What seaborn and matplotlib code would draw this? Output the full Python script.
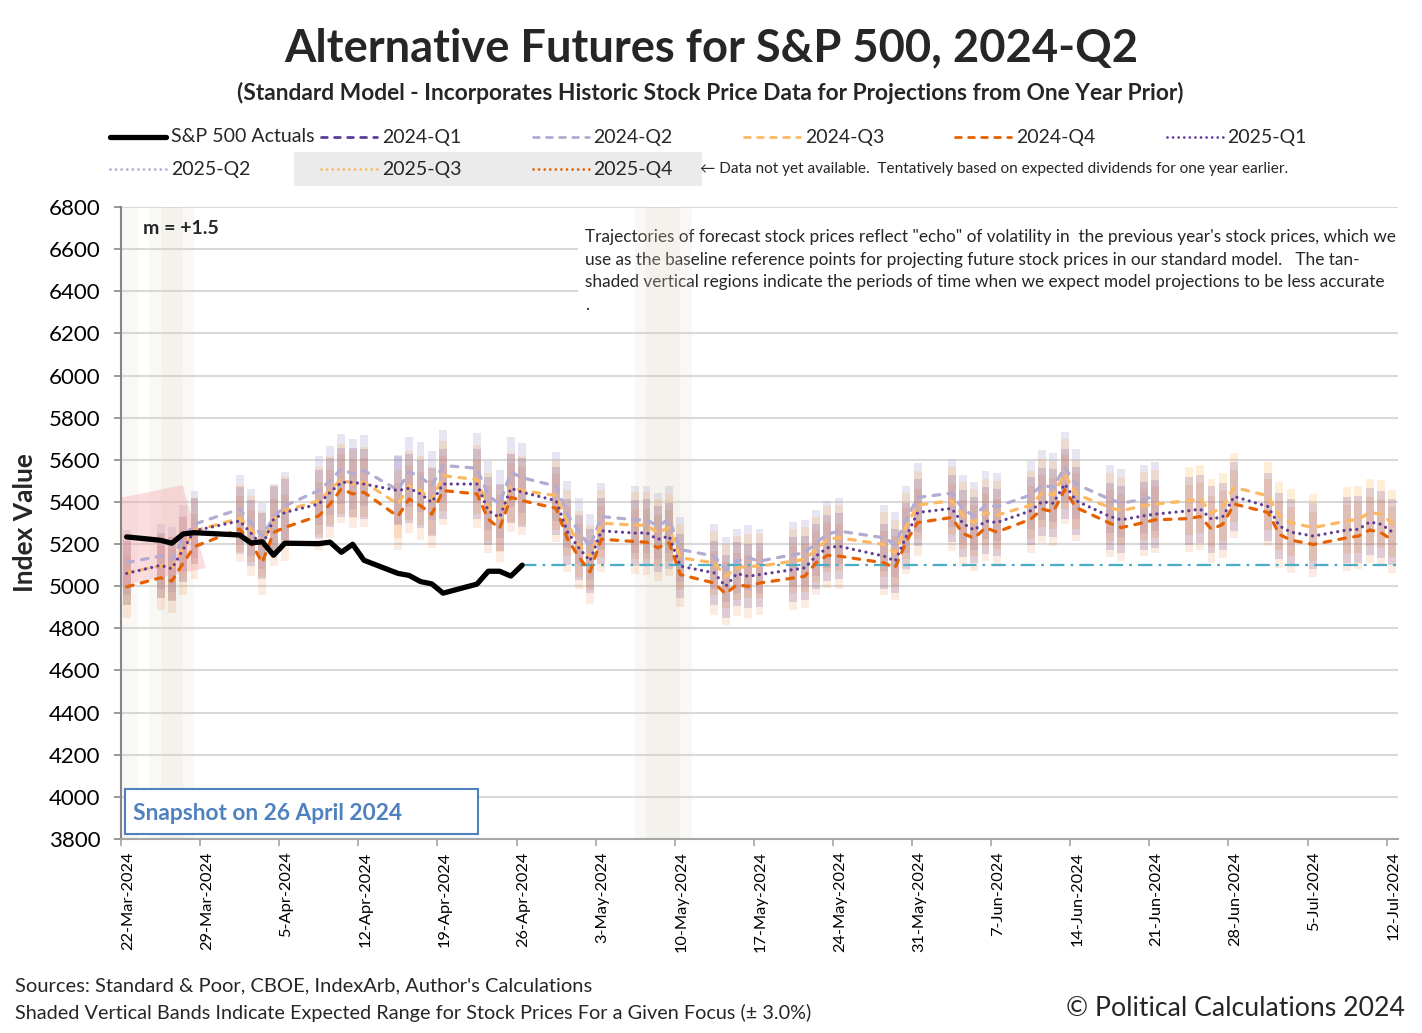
import numpy as np
import pandas as pd
import matplotlib
matplotlib.use("Agg")
import matplotlib.pyplot as plt
from matplotlib.lines import Line2D
from matplotlib.patches import Rectangle
import seaborn as sns

# --- data -------------------------------------------------------------
holidays = ["2024-03-29", "2024-05-27", "2024-06-19", "2024-07-04"]
trade_days = pd.bdate_range("2024-03-22", "2024-07-12", freq="C", holidays=holidays)

# S&P 500 daily closes, 22-Mar-2024 .. 26-Apr-2024
actual_close = [5234, 5218, 5204, 5248, 5254, 5243, 5205, 5211, 5147, 5204,
                5202, 5209, 5161, 5199, 5123, 5061, 5051, 5022, 5011, 4967,
                5010, 5071, 5071, 5048, 5100]

# projected trajectories, one value per trading day
q2_2024 = [5112, 5143, 5127, 5230, 5295, 5366, 5302, 5239, 5326, 5382,
           5454, 5501, 5557, 5533, 5549, 5457, 5544, 5517, 5477, 5573,
           5560, 5430, 5390, 5541, 5515, 5475, 5340, 5262, 5186, 5331,
           5315, 5315, 5286, 5318, 5174, 5143, 5079, 5119, 5135, 5119,
           5150, 5158, 5206, 5246, 5262, 5230, 5198, 5318, 5421, 5442,
           5365, 5334, 5385, 5378, 5433, 5480, 5469, 5565, 5485, 5413,
           5394, 5413, 5426]
q3_2024 = [5064, 5096, 5088, 5180, 5263, 5322, 5271, 5199, 5318, 5358,
           5406, 5454, 5509, 5486, 5494, 5390, 5477, 5454, 5406, 5525,
           5506, 5374, 5322, 5470, 5454, 5430, 5300, 5199, 5135, 5299,
           5290, 5289, 5254, 5278, 5135, 5111, 5047, 5087, 5095, 5095,
           5119, 5127, 5174, 5222, 5230, 5198, 5158, 5286, 5385, 5406,
           5336, 5302, 5350, 5337, 5385, 5442, 5433, 5533, 5437, 5374,
           5358, 5382, 5390, 5406, 5413, 5347, 5378, 5469, 5429, 5334,
           5302, 5278, 5310, 5318, 5350, 5342, 5299]
q4_2024 = [4997, 5040, 5024, 5110, 5188, 5271, 5207, 5112, 5255, 5279,
           5334, 5390, 5462, 5438, 5446, 5331, 5414, 5382, 5342, 5454,
           5438, 5318, 5274, 5422, 5406, 5370, 5225, 5140, 5068, 5223,
           5212, 5209, 5182, 5206, 5055, 5015, 4964, 5007, 4999, 5015,
           5039, 5047, 5111, 5146, 5143, 5111, 5087, 5214, 5302, 5326,
           5250, 5228, 5278, 5257, 5318, 5366, 5353, 5458, 5374, 5299,
           5278, 5302, 5315, 5321, 5331, 5270, 5294, 5390, 5350, 5246,
           5219, 5198, 5230, 5238, 5267, 5254, 5219]
q1_2025 = [5061, 5099, 5083, 5175, 5263, 5310, 5252, 5191, 5318, 5350,
           5390, 5446, 5493, 5493, 5485, 5454, 5465, 5438, 5398, 5485,
           5485, 5358, 5326, 5465, 5446, 5406, 5258, 5183, 5120, 5263,
           5252, 5254, 5222, 5238, 5095, 5063, 4999, 5060, 5047, 5055,
           5079, 5087, 5143, 5182, 5190, 5143, 5119, 5238, 5350, 5369,
           5298, 5266, 5310, 5302, 5358, 5401, 5394, 5485, 5406, 5331,
           5315, 5334, 5342, 5358, 5366, 5318, 5331, 5426, 5378, 5286,
           5257, 5238, 5267, 5270, 5305, 5294, 5257]

projections = {"2024-Q2": q2_2024, "2024-Q3": q3_2024,
               "2024-Q4": q4_2024, "2025-Q1": q1_2025}

band_pct = 0.03  # +/- 3.0% expected range

# tan "less accurate" periods
tan_starts = pd.to_datetime(["2024-03-20 12:00", "2024-03-24 12:00", "2024-03-25 12:00",
                             "2024-05-06 12:00", "2024-05-07 12:00"])
tan_ends = pd.to_datetime(["2024-03-23 12:00", "2024-03-27 12:00", "2024-03-28 12:00",
                           "2024-05-10 12:00", "2024-05-11 12:00"])

# pink shaded region near the start
pink_dates = pd.to_datetime(["2024-03-22 00:00", "2024-03-27 11:00",
                             "2024-03-29 12:00", "2024-03-22 00:00"])
pink_vals = [5420, 5480, 5086, 5003]

tick_dates = pd.date_range("2024-03-22", "2024-07-12", freq="7D")
y_ticks = list(range(3800, 6801, 200))

legend_names = ["S&P 500 Actuals", "2024-Q1", "2024-Q2", "2024-Q3", "2024-Q4",
                "2025-Q1", "2025-Q2", "2025-Q3", "2025-Q4"]

# --- styles -----------------------------------------------------------
LAV, LORG, DORG, DPUR = "#b2abd2", "#fdb863", "#e66101", "#5e3c99"
DASH = (2.1, 2.6)
DOT = (0.01, 2.0)
colors = {"S&P 500 Actuals": "black",
          "2024-Q1": DPUR, "2024-Q2": LAV, "2024-Q3": LORG, "2024-Q4": DORG,
          "2025-Q1": DPUR, "2025-Q2": LAV, "2025-Q3": LORG, "2025-Q4": DORG}
dashes = {"S&P 500 Actuals": None,
          "2024-Q1": DASH, "2024-Q2": DASH, "2024-Q3": DASH, "2024-Q4": DASH,
          "2025-Q1": DOT, "2025-Q2": DOT, "2025-Q3": DOT, "2025-Q4": DOT}
bar_alpha = {"2024-Q2": 0.30, "2024-Q3": 0.25, "2024-Q4": 0.12, "2025-Q1": 0.18}

sns.set_theme(style="white")
plt.rcParams["font.family"] = ["Lato", "DejaVu Sans"]

W, H = 1422, 1033


def fx(px):
    return px / W


def fy(py):
    return 1 - py / H


fig = plt.figure(figsize=(W / 100, H / 100), dpi=100)
ax = fig.add_axes([fx(121), fy(839), fx(1398) - fx(121), fy(207) - fy(839)])

half_day = pd.Timedelta(hours=12)
mid = trade_days + half_day

# tan periods
for t0, t1 in zip(tan_starts, tan_ends):
    ax.axvspan(t0, t1, color="#ddd5bf", alpha=0.15, lw=0, zorder=1)

# expected-range bars
for name, vals in projections.items():
    v = np.array(vals, dtype=float)
    ax.bar(mid[:len(v)], v * 2 * band_pct, bottom=v * (1 - band_pct), width=0.7,
           color=colors[name], alpha=bar_alpha[name], linewidth=0, zorder=2)

ax.fill(pink_dates, pink_vals, color="#f4a0a8", alpha=0.35, lw=0, zorder=2.5)

# projection lines
frames = []
for name, vals in projections.items():
    frames.append(pd.DataFrame({"date": mid[:len(vals)], "value": vals, "series": name}))
long_df = pd.concat(frames, ignore_index=True)
sns.lineplot(data=long_df, x="date", y="value", hue="series", style="series",
             palette={k: colors[k] for k in projections},
             dashes={k: dashes[k] for k in projections},
             linewidth=2.3, dash_capstyle="round", legend=False,
             errorbar=None, ax=ax, zorder=4)

# reference level of last close
ref_dates = [mid[len(actual_close) - 1], pd.Timestamp("2024-07-13")]
ax.plot(ref_dates, [actual_close[-1]] * 2, color="#4bacc6", lw=1.6,
        dashes=(6.5, 2.7, 1.3, 2.7), zorder=3)

# actuals
sns.lineplot(x=mid[:len(actual_close)], y=actual_close, color="black",
             linewidth=3.8, ax=ax, zorder=6, solid_joinstyle="round")

# axes formatting
ax.set_xlim(pd.Timestamp("2024-03-22"), pd.Timestamp("2024-07-13"))
ax.set_ylim(3800, 6800)
ax.set_yticks(y_ticks)
ax.set_yticklabels([str(t) for t in y_ticks], fontsize=16)
ax.set_xticks(tick_dates)
ax.set_xticklabels([f"{d.day}-{d:%b-%Y}" for d in tick_dates], rotation=90,
                   ha="left", fontsize=11.8)
ax.set_xlabel("")
ax.set_ylabel("Index Value", fontsize=19, fontweight="bold")
ax.yaxis.set_label_coords(-0.066, 0.5)
ax.set_axisbelow(True)
ax.yaxis.grid(True, color="#d9d9d9", linewidth=1.5)
ax.xaxis.grid(False)
for s in ["top", "right"]:
    ax.spines[s].set_visible(False)
ax.spines["left"].set_color("#868686")
ax.spines["left"].set_linewidth(1.5)
ax.spines["bottom"].set_color("#a6a6a6")
ax.spines["bottom"].set_linewidth(1.5)
ax.tick_params(axis="y", which="major", direction="out", length=5, width=1.2,
               color="#868686", left=True, pad=10, labelcolor="black")
ax.tick_params(axis="x", which="major", direction="out", length=5, width=1.2,
               color="#a6a6a6", bottom=True, pad=4, labelcolor="black")

note = ax.text(fx(585 - 121) / (fx(1398) - fx(121)), (839 - 229) / 632,
               "Trajectories of forecast stock prices reflect \"echo\" of volatility in  the previous year's stock prices, which we\n"
               "use as the baseline reference points for projecting future stock prices in our standard model.   The tan-\n"
               "shaded vertical regions indicate the periods of time when we expect model projections to be less accurate\n"
               ".",
               transform=ax.transAxes, ha="left", va="top", fontsize=12.5,
               linespacing=1.5, zorder=0.9,
               bbox=dict(boxstyle="square,pad=0.4", fc="white", ec="none"))

# --- titles, legend and footnotes ------------------------------------------
title = fig.text(fx(711), fy(48), "Alternative Futures for S&P 500, 2024-Q2",
                 ha="center", va="center", fontsize=30, fontweight="bold")
subtitle = fig.text(fx(710), fy(93),
                    "(Standard Model - Incorporates Historic Stock Price Data for Projections from One Year Prior)",
                    ha="center", va="center", fontsize=15, fontweight="bold")

fig.add_artist(Rectangle((fx(294), fy(186)), fx(702) - fx(294), fy(152) - fy(186),
                         transform=fig.transFigure, fc="#ebebeb", ec="none", zorder=0))
legend_texts = []
for i, name in enumerate(legend_names):
    row, col = divmod(i, 6)
    x0 = 110 + col * 211.3
    y0 = 137 + row * 32
    lw = 3.8 if name == "S&P 500 Actuals" else 2.0
    ln = Line2D([fx(x0), fx(x0 + 56)], [fy(y0), fy(y0)], transform=fig.transFigure,
                color=colors[name], lw=lw, solid_capstyle="round", dash_capstyle="round")
    if dashes[name] is not None:
        ln.set_dashes(dashes[name])
    fig.add_artist(ln)
    legend_texts.append(fig.text(fx(x0 + 61), fy(y0), name, ha="left", va="center", fontsize=14))
avail = fig.text(fx(700), fy(169),
                 "\u2190 Data not yet available.  Tentatively based on expected dividends for one year earlier.",
                 ha="left", va="center", fontsize=10.5)

fig.text(fx(143), fy(229), "m = +1.5", ha="left", va="center", fontsize=14, fontweight="bold")

fig.add_artist(Rectangle((fx(125), fy(834)), fx(478) - fx(125), fy(789) - fy(834),
                         transform=fig.transFigure, fc="white", ec="#4f81bd", lw=1.5, zorder=2))
snap = fig.text(fx(133), fy(813), "Snapshot on 26 April 2024", ha="left", va="center",
                fontsize=16, fontweight="bold", color="#4f81bd", zorder=3)

src = fig.text(fx(15), fy(986), "Sources: Standard & Poor, CBOE, IndexArb, Author's Calculations",
               ha="left", va="center", fontsize=14)
band_note = fig.text(fx(15), fy(1013),
                     "Shaded Vertical Bands Indicate Expected Range for Stock Prices For a Given Focus (\u00b1 3.0%)",
                     ha="left", va="center", fontsize=14)
copy = fig.text(fx(1405), fy(1008), "\u00a9 Political Calculations 2024", ha="right", va="center",
                fontsize=18)

# scale a few texts to the widths seen in the original
fig.canvas.draw()
renderer = fig.canvas.get_renderer()
targets = [(title, 852), (subtitle, 956), (note, 815), (snap, 271), (src, 578),
           (band_note, 801), (copy, 337), (legend_texts[0], 144), (avail, 592)]
for txt, target in targets:
    w = txt.get_window_extent(renderer).width
    txt.set_fontsize(txt.get_fontsize() * target / w)

fig.savefig("out.png", dpi=100)
